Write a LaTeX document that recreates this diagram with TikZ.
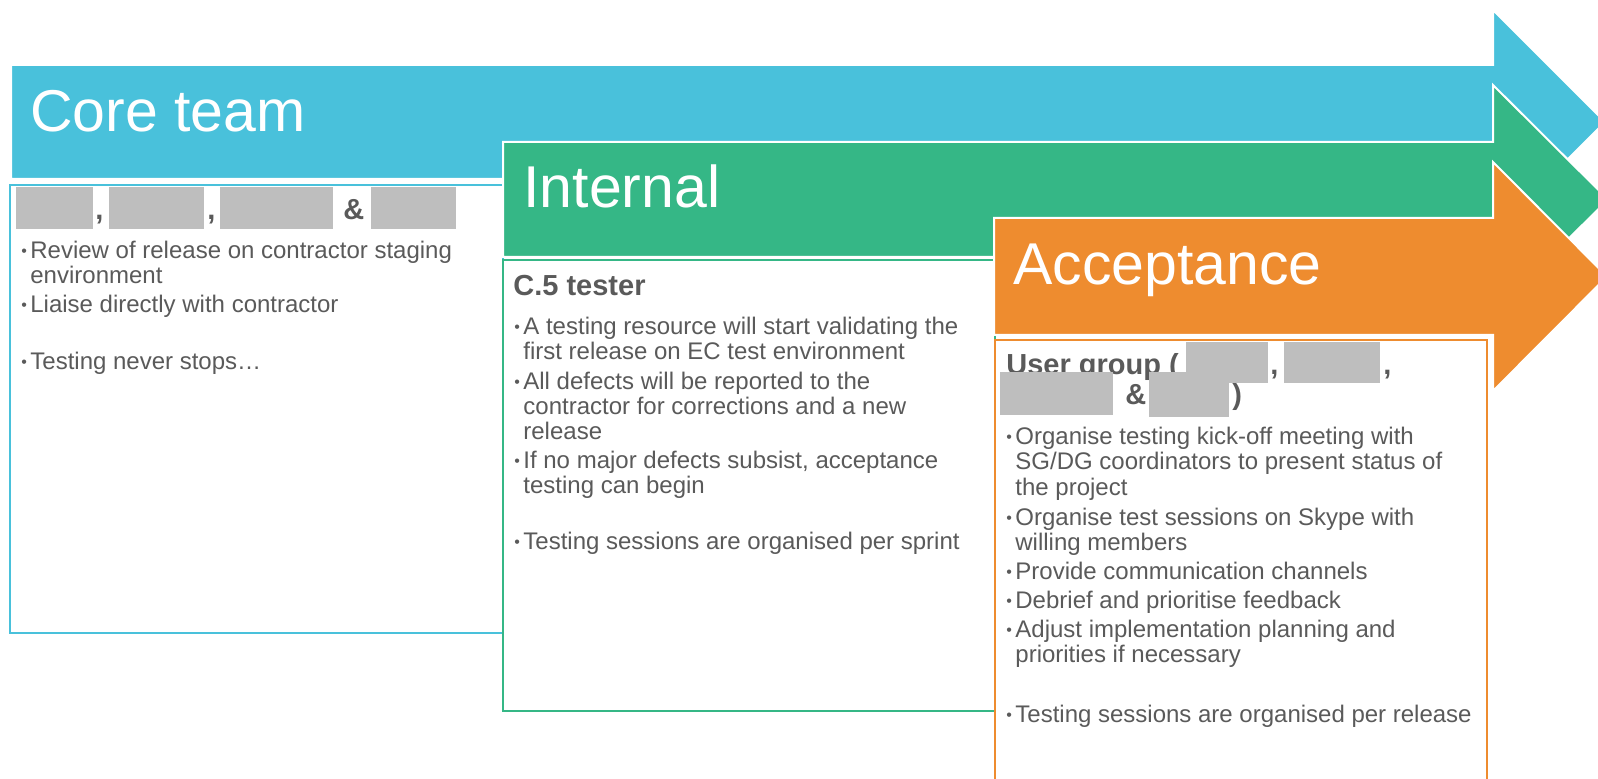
\documentclass[tikz,border=0pt]{standalone}
\usepackage{fontspec}
\setmainfont{Liberation Sans}
\definecolor{cblue}{HTML}{49C1DB}
\definecolor{cgreen}{HTML}{35B786}
\definecolor{corange}{HTML}{EE8C2F}
\definecolor{ctext}{HTML}{5A5A5A}
\definecolor{credact}{HTML}{BEBEBE}
\newcommand{\bmk}{\makebox[4.5pt][l]{\raisebox{1pt}{\fontsize{8}{8}\selectfont •}}}
\begin{document}
\begin{tikzpicture}[x=0.5pt,y=-0.5pt,
  arrowshape/.style={draw=white,line width=1pt},
  panel/.style={line width=1pt,fill=white},
  title/.style={anchor=base west,inner sep=0,text=white,font=\fontsize{29.5}{30}\selectfont},
  body/.style={anchor=base west,inner sep=0,text=ctext,font=\fontsize{12}{12.5}\selectfont},
  head/.style={anchor=base west,inner sep=0,text=ctext,font=\fontsize{14.5}{15}\selectfont\bfseries},
  redact/.style={fill=credact,draw=none}]
\useasboundingbox (0,0) rectangle (1598,779);
\clip (0,0) rectangle (1598,779);
% ---------- Core team ----------
\filldraw[fill=cblue,arrowshape] (11,65) -- (1493,65) -- (1493,10) -- (1605,122) -- (1493,234) -- (1493,179) -- (11,179) -- cycle;
\draw[panel,draw=cblue] (10,185) rectangle (503,633);
\node[title] (tcore) at (30,132) {Core team};
\fill[redact] (16,187) rectangle (93,229);
\fill[redact] (109,187) rectangle (204,229);
\fill[redact] (220,187) rectangle (333,229);
\fill[redact] (371,187) rectangle (456,229);
\node[head] (cc1) at (95,220) {,};
\node[head] (cc2) at (207,220) {,};
\node[head] (camp) at (343,220) {\&};
\node[body] (c1) at (21,259) {\bmk Review of release on contractor staging};
\node[body] (c2) at (30,284) {environment};
\node[body] (c3) at (21,313) {\bmk Liaise directly with contractor};
\node[body] (c4) at (21,370) {\bmk Testing never stops…};
% ---------- Internal ----------
\filldraw[fill=cgreen,arrowshape] (503,142) -- (1493,142) -- (1493,85) -- (1608,199.5) -- (1493,314) -- (1493,257) -- (503,257) -- cycle;
\draw[panel,draw=cgreen] (503,260) rectangle (995,711);
\node[title] (tint) at (523,208) {Internal};
\node[head] (ihead) at (513,296) {C.5 tester};
\node[body] (i1) at (514,335) {\bmk A testing resource will start validating the};
\node[body] (i2) at (523,360) {first release on EC test environment};
\node[body] (i3) at (514,390) {\bmk All defects will be reported to the};
\node[body] (i4) at (523,415) {contractor for corrections and a new};
\node[body] (i5) at (523,440) {release};
\node[body] (i6) at (514,469) {\bmk If no major defects subsist, acceptance};
\node[body] (i7) at (523,494) {testing can begin};
\node[body] (i8) at (514,549) {\bmk Testing sessions are organised per sprint};
% ---------- Acceptance ----------
\filldraw[fill=corange,arrowshape] (994,218) -- (1493,218) -- (1493,162) -- (1607,276.5) -- (1493,391) -- (1493,335) -- (994,335) -- cycle;
\draw[panel,draw=corange] (995,340) rectangle (1487,800);
\node[title] (tacc) at (1013,285) {Acceptance};
\node[head] (ahead) at (1006,375) {User group (};
\fill[redact] (1186,342) rectangle (1268,383);
\fill[redact] (1284,342) rectangle (1380,383);
\node[head] (ac1) at (1270,375) {,};
\node[head] (ac2) at (1383,375) {,};
\fill[redact] (1000,372) rectangle (1113,415);
\node[head] (aamp) at (1125,405) {\&};
\fill[redact] (1149,372) rectangle (1229,417);
\node[head] (aclose) at (1232,405) {)};
\node[body] (a1) at (1006,445) {\bmk Organise testing kick-off meeting with};
\node[body] (a2) at (1015,470) {SG/DG coordinators to present status of};
\node[body] (a3) at (1015,495) {the project};
\node[body] (a4) at (1006,525) {\bmk Organise test sessions on Skype with};
\node[body] (a5) at (1015,550) {willing members};
\node[body] (a6) at (1006,579) {\bmk Provide communication channels};
\node[body] (a7) at (1006,608) {\bmk Debrief and prioritise feedback};
\node[body] (a8) at (1006,637) {\bmk Adjust implementation planning and};
\node[body] (a9) at (1015,662) {priorities if necessary};
\node[body] (a10) at (1006,722) {\bmk Testing sessions are organised per release};
\end{tikzpicture}
\end{document}
